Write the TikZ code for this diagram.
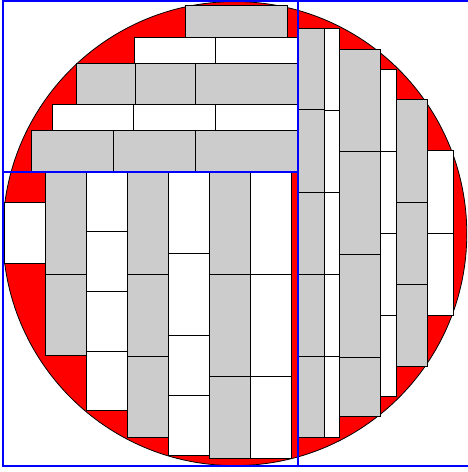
\documentclass[tikz,border=0pt]{standalone}
\begin{document}
\begin{tikzpicture}[x=1pt,y=-1pt,
  gp/.style={draw=black,fill=black!20,line width=0.8pt},
  wp/.style={draw=black,fill=white,line width=0.8pt},
  cut/.style={draw=blue,line width=2pt}]
\useasboundingbox (0,0) rectangle (468,472);
% circle (stock)
\draw[fill=red,draw=black,line width=0.8pt] (234.8,233.6) circle (232);
% gray pieces
\foreach \a/\b/\c/\d in {
  185/5/287.3/37,
  76/63/135.3/104, 135.3/63/195.3/104, 195.3/63/297.5/104,
  31.7/130.3/113.7/171, 113.7/130.3/195.3/171, 195.3/130.3/297.5/171,
  45.3/171/86.7/274, 45.3/274/86.7/355.7,
  127.7/171/168.3/274, 127.7/274/168.3/356, 127.7/356/168.3/437.7,
  209.3/171/250.3/274, 209.3/274/250.3/376.7, 209.3/376.7/250.3/458.3,
  298.5/28.3/324/109.3, 298.5/109.3/324/192, 298.5/192/324/274, 298.5/274/324/356, 298.5/356/324/437.7,
  339.3/49.3/380.3/151.7, 339.3/151.7/380.3/254.3, 339.3/254.3/380.3/357, 339.3/357/380.3/416.3,
  396.3/99.3/427.3/202.3, 396.3/202.3/427.3/284.3, 396.3/284.3/427.3/366}
  \draw[gp] (\a,\b) rectangle (\c,\d);
% white pieces
\foreach \a/\b/\c/\d in {
  134/37/215.7/63, 215.7/37/297.5/63,
  52.3/104/133.7/130.3, 133.7/104/215.7/130.3, 215.7/104/297.5/130.3,
  4/202.7/45.3/263,
  86.7/171/127.7/231.3, 86.7/231.3/127.7/291.3, 86.7/291.3/127.7/351.3, 86.7/351.3/127.7/410.3,
  168.3/171/209.3/253.7, 168.3/253.7/209.3/335.3, 168.3/335.3/209.3/395.3, 168.3/395.3/209.3/455,
  250.3/171/291.7/274, 250.3/274/291.7/376.7, 250.3/376.7/291.7/458.3,
  324/28.3/339.3/110, 324/110/339.3/192, 324/192/339.3/274, 324/274/339.3/356, 324/356/339.3/437.7,
  380.3/69.3/396.3/151, 380.3/151/396.3/233, 380.3/233/396.3/315, 380.3/315/396.3/396.7,
  427.3/150.7/453.3/233, 427.3/233/453.3/315}
  \draw[wp] (\a,\b) rectangle (\c,\d);
% guillotine cuts
\coordinate (tl) at (3,0.8);
\coordinate (tr) at (470,0.8);
\coordinate (bl) at (3,466);
\coordinate (br) at (470,466);
\coordinate (mt) at (298,0.8);
\coordinate (mb) at (298,466);
\coordinate (hl) at (3,171.5);
\coordinate (hr) at (298,171.5);
\draw[cut] (tr) -- (tl) -- (bl) -- (br);
\draw[cut] (mt) -- (mb);
\draw[cut] (hl) -- (hr);
\end{tikzpicture}
\end{document}
